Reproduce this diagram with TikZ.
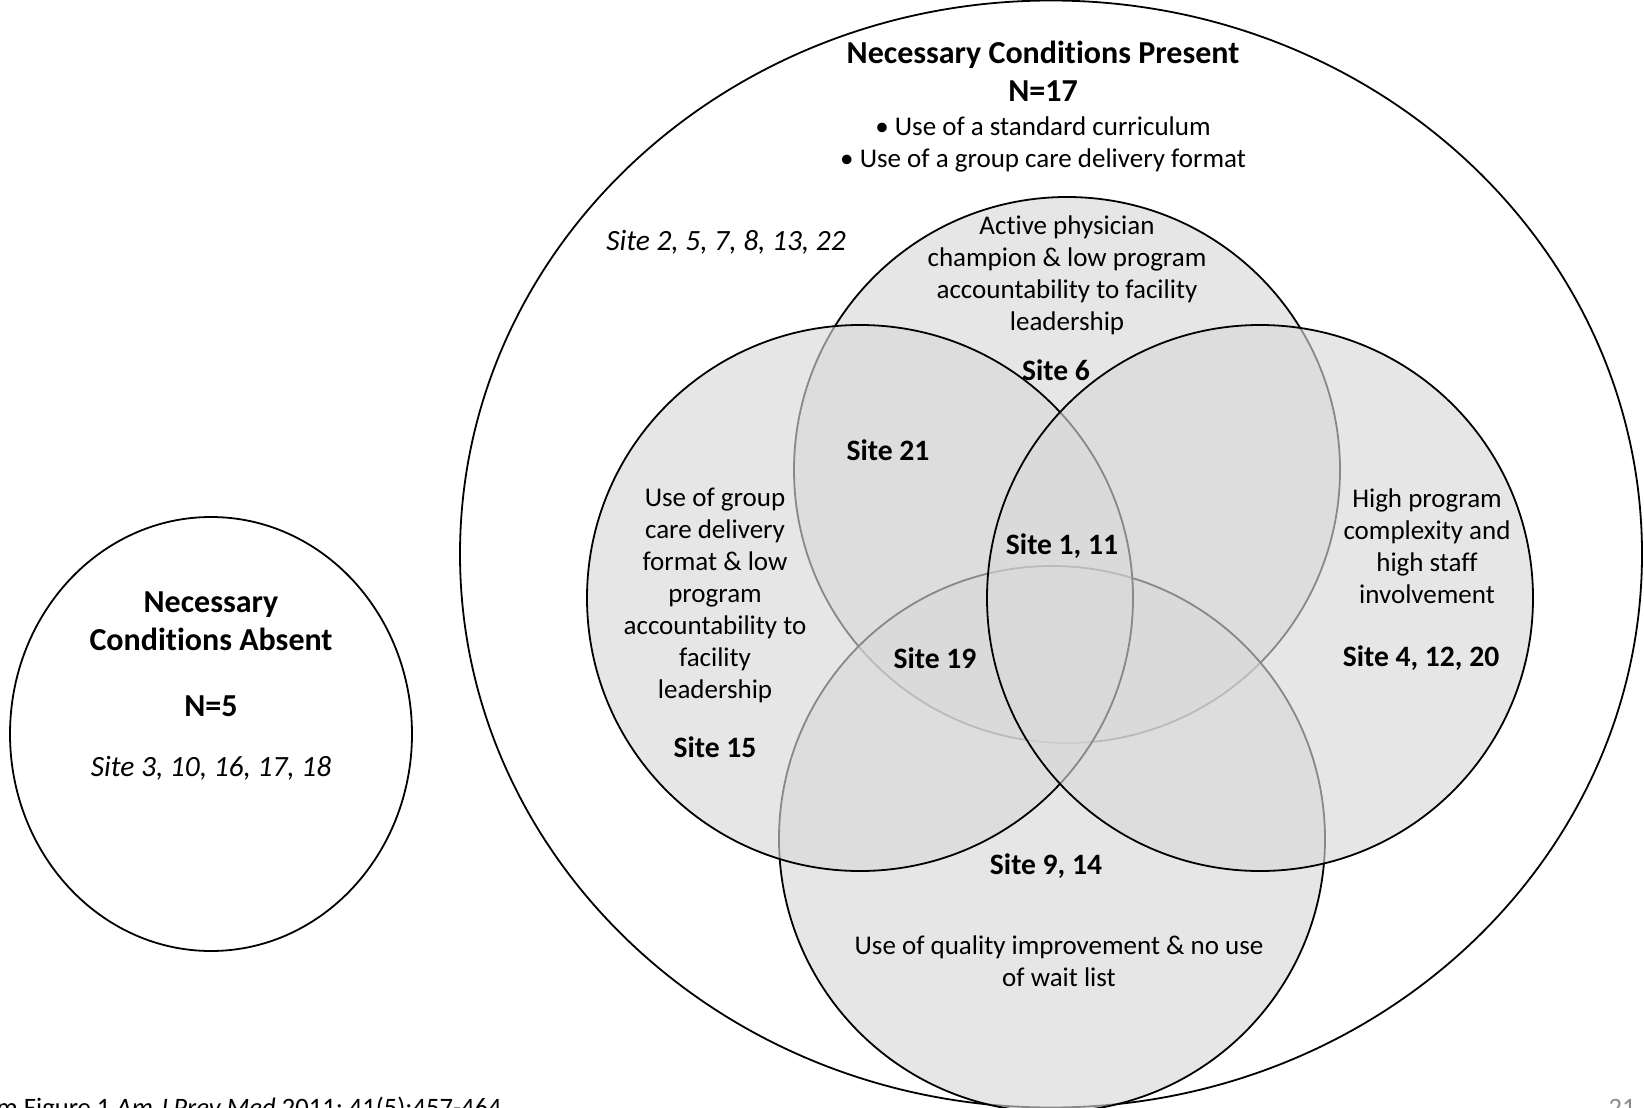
\documentclass[tikz,border=0pt]{standalone}
\usepackage{fontspec}
\setmainfont{Carlito}[Ligatures={TeX,NoCommon}]
\usetikzlibrary{shapes.geometric}
\definecolor{venngray}{RGB}{216,216,216}
\definecolor{pagegray}{RGB}{140,140,140}
\tikzset{
  vennset/.style={circle, draw=black, line width=0.9pt, fill=venngray, fill opacity=0.63, inner sep=0pt, minimum size=273pt},
  bigset/.style={ellipse, draw=black, line width=0.9pt, inner sep=0pt},
  body/.style={align=center, font=\fontsize{13.5}{16}\selectfont, inner sep=0pt},
  title/.style={align=center, font=\fontsize{16}{19}\selectfont\bfseries, inner sep=0pt},
  sitelbl/.style={font=\fontsize{14.8}{17}\selectfont\bfseries, inner sep=0pt},
  siteit/.style={font=\fontsize{14.7}{17}\selectfont\itshape, inner sep=0pt},
}
\begin{document}
\begin{tikzpicture}[x=0.5pt, y=-0.5pt]
\useasboundingbox (0,0) rectangle (1644,1108);
\clip (0,0) rectangle (1644,1108);
% outer sets
\node[bigset, minimum width=591pt, minimum height=553.5pt] (present) at (1051,554) {};
\node[bigset, minimum width=201pt, minimum height=217pt] (absent) at (211,734) {};
% four condition sets
\node[vennset] (topset) at (1067,470) {};
\node[vennset] (botset) at (1052,839) {};
\node[vennset] (leftset) at (860,598) {};
\node[vennset] (rightset) at (1260,598) {};
% texts in outer ellipse
\node[title] (ptitle) at (1043,71) {Necessary Conditions Present\\N=17};
\node[body] (pcond) at (1043,144) {\textbullet\ Use of a standard curriculum\\\textbullet\ Use of a group care delivery format};
\node[siteit] (psites) at (726,242) {Site 2, 5, 7, 8, 13, 22};
% top set
\node[body] (toptxt) at (1067,275) {Active physician\\champion \& low program\\accountability to facility\\leadership};
\node[sitelbl] (s6) at (1056,370) {Site 6};
% left set
\node[body] (lefttxt) at (715,595) {Use of group\\care delivery\\format \& low\\program\\accountability to\\facility\\leadership};
\node[sitelbl] (s15) at (715,747) {Site 15};
\node[sitelbl] (s21) at (888,450) {Site 21};
\node[sitelbl] (s111) at (1062,546) {Site 1, 11};
\node[sitelbl] (s19) at (935,658) {Site 19};
% right set
\node[body] (righttxt) at (1427,546) {High program\\complexity and\\high staff\\involvement};
\node[sitelbl] (s41220) at (1421,658) {Site 4, 12, 20};
% bottom set
\node[sitelbl] (s914) at (1046,866) {Site 9, 14};
\node[body] (bottxt) at (1059,961) {Use of quality improvement \& no use\\of wait list};
% absent ellipse
\node[title] (atitle) at (211,621) {Necessary\\Conditions Absent};
\node[title] (an) at (211,706) {N=5};
\node[siteit] (asites) at (211,768) {Site 3, 10, 16, 17, 18};
% footer
\node[font=\fontsize{13.3}{16}\selectfont, anchor=base east, inner sep=0pt] (src) at (502,1116) {m Figure 1 \textit{Am J Prev Med} 2011; 41(5):457-464};
\node[font=\fontsize{13.3}{16}\selectfont, anchor=base east, inner sep=0pt, text=pagegray] (pgno) at (1636,1116) {21};
\end{tikzpicture}
\end{document}
